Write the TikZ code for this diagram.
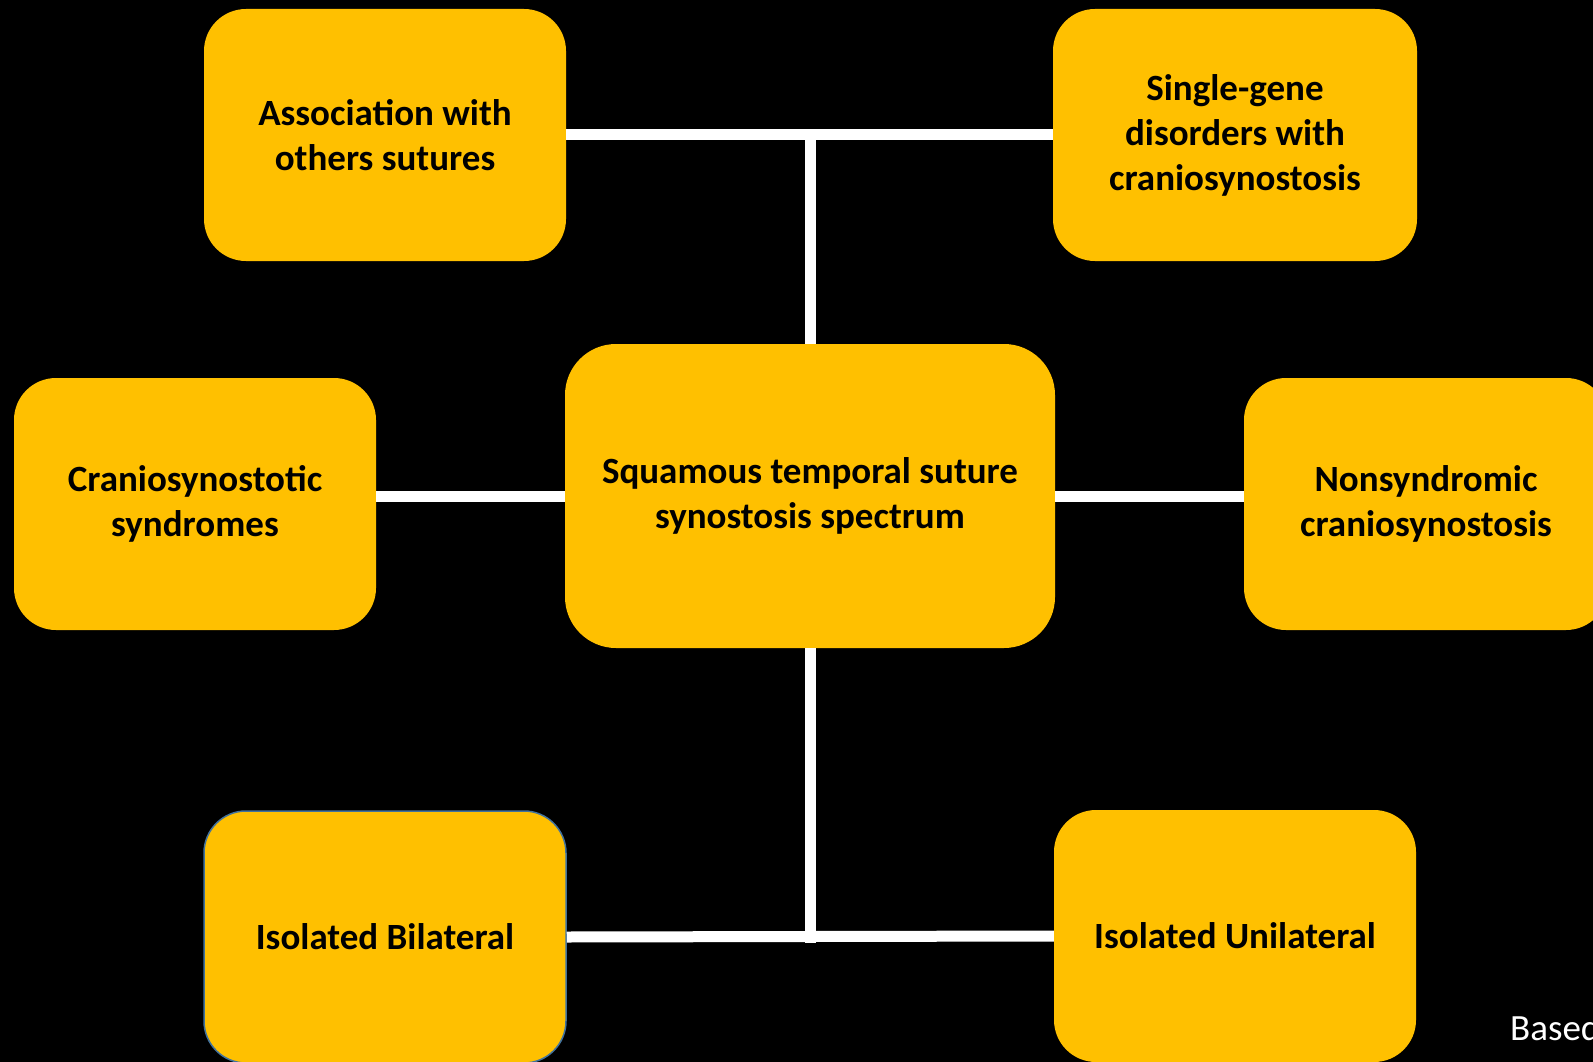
\documentclass[tikz,border=0pt]{standalone}
\usepackage{fontspec}
\setmainfont{Carlito}
\usepackage{tikz}
\usetikzlibrary{calc}
\definecolor{boxgold}{HTML}{FFC000}
\definecolor{edgeblue}{HTML}{41719C}

\begin{document}
\begin{tikzpicture}[x=1pt,y=-1pt,
    box/.style={rectangle,rounded corners=42pt,fill=boxgold,inner sep=0pt,
      minimum width=362pt,minimum height=252pt,align=center,
      font=\bfseries\fontsize{37}{45}\selectfont},
    mainbox/.style={box,rounded corners=51pt,minimum width=490pt,minimum height=304pt},
    link/.style={draw=white,line width=11pt}]
    \clip (0,0) rectangle (1593,1062);
    \fill[black] (0,0) rectangle (1593,1062);
    \node[mainbox] (spectrum) at (810,496) {Squamous temporal suture\\synostosis spectrum};
    \node[box] (assoc) at (385,135) {Association with\\others sutures};
    \node[box,minimum width=364pt] (single) at (1235,135) {Single-gene\\disorders with\\craniosynostosis};
    \node[box] (syndromes) at (195,504) {Craniosynostotic\\syndromes};
    \node[box,minimum width=364pt] (nonsyn) at (1426,504) {Nonsyndromic\\craniosynostosis};
    \node[box,draw=edgeblue,line width=1.5pt] (bilateral) at (385,937) {Isolated Bilateral};
    \node[box] (unilateral) at (1235,936) {Isolated Unilateral};
    \coordinate (topjoin) at (spectrum.north |- assoc.east);
    \coordinate (botjoin) at (spectrum.south |- bilateral.east);
    \draw[link] (assoc.east) -- (single.west);
    \draw[link] (spectrum.north) -- (topjoin);
    \draw[link] (spectrum.west) -- (spectrum.west -| syndromes.east);
    \draw[link] (spectrum.east) -- (spectrum.east -| nonsyn.west);
    \draw[link] (spectrum.south) -- ($(botjoin)+(0,5.5)$);
    \draw[link] (bilateral.east) -- (unilateral.west);
    \node[anchor=base west,text=white,inner sep=0pt,font=\fontsize{37}{45}\selectfont] (based) at (1510,1040) {Based};
\end{tikzpicture}
\end{document}
